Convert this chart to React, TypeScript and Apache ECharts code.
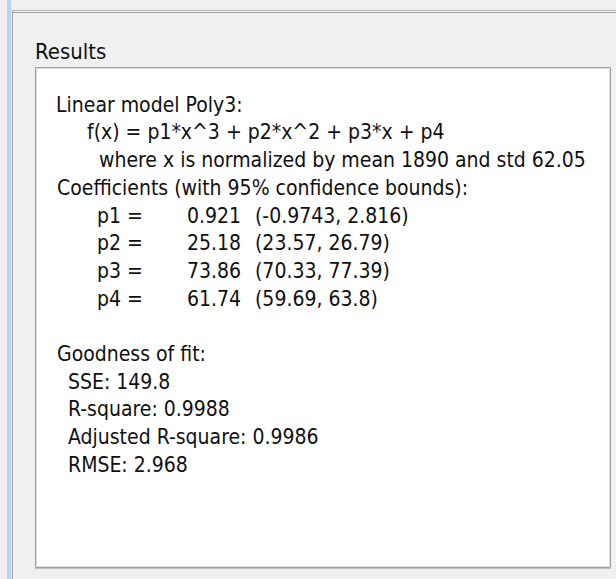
import React, { useEffect, useRef } from "react";
import * as echarts from "echarts";

// ---- content ----
const panelTitle = "Results";
const modelName = "Poly3";
const formulaText = "f(x) = p1*x^3 + p2*x^2 + p3*x + p4";
const normMean = 1890;
const normStd = 62.05;
const confidenceLevel = 95;
const coefNames = ["p1", "p2", "p3", "p4"];
const coefValues = ["0.921", "25.18", "73.86", "61.74"];
const coefLower = ["-0.9743", "23.57", "70.33", "59.69"];
const coefUpper = ["2.816", "26.79", "77.39", "63.8"];
const fitLabels = ["SSE", "R-square", "Adjusted R-square", "RMSE"];
const fitValues = ["149.8", "0.9988", "0.9986", "2.968"];

const FONT_FAMILY = '"DejaVu Sans Condensed", "DejaVu Sans", sans-serif';
const FONT_SIZE = 21;
const TEXT_COLOR = "#101010";

export default function App() {
  const ref = useRef<HTMLDivElement>(null);

  useEffect(() => {
    document.body.style.margin = "0";
    const el = ref.current;
    if (!el) return;
    const chart = echarts.init(el, undefined, { renderer: "svg" });

    const font = `${FONT_SIZE}px ${FONT_FAMILY}`;
    const lineStep = 27.7;
    const firstBaseline = 112;
    const baseOffset = 7.3; // distance from baseline to middle
    const lineY = (k: number) => firstBaseline + lineStep * k - baseOffset;

    const txt = (text: string, x: number, y: number, extra: any = {}) => ({
      type: "text",
      x,
      y,
      silent: true,
      style: {
        text,
        font,
        fill: TEXT_COLOR,
        verticalAlign: "middle",
        align: "left",
        ...extra,
      },
    });

    const elements: any[] = [];

    // blue strip on left
    elements.push({
      type: "rect",
      shape: { x: 7, y: 0, width: 4, height: 579 },
      style: { fill: "#b9d1ea" },
      silent: true,
    });
    // outer vertical groove line
    elements.push({
      type: "line",
      shape: { x1: 12.5, y1: 10, x2: 12.5, y2: 579 },
      style: { stroke: "#a0a0a0", lineWidth: 1 },
      silent: true,
    });
    // top double line
    elements.push({
      type: "line",
      shape: { x1: 12, y1: 10.5, x2: 616, y2: 10.5 },
      style: { stroke: "#b4b4b4", lineWidth: 1 },
      silent: true,
    });
    elements.push({
      type: "line",
      shape: { x1: 13, y1: 12.5, x2: 616, y2: 12.5 },
      style: { stroke: "#a0a0a0", lineWidth: 1 },
      silent: true,
    });

    // panel title
    elements.push(
      txt(panelTitle, 35, 59 - 7.6, { font: `22px ${FONT_FAMILY}` })
    );

    // white results box
    elements.push({
      type: "rect",
      shape: { x: 35.5, y: 67.5, width: 575, height: 500 },
      style: { fill: "#ffffff", stroke: "#a0a0a0", lineWidth: 1 },
      silent: true,
    });
    elements.push({
      type: "rect",
      shape: { x: 36.5, y: 68.5, width: 573, height: 498 },
      style: { fill: "none", stroke: "#dcdcdc", lineWidth: 1 },
      silent: true,
    });
    elements.push({
      type: "line",
      shape: { x1: 35, y1: 568.5, x2: 611, y2: 568.5 },
      style: { stroke: "#c0c0c0", lineWidth: 1 },
      silent: true,
    });

    // header lines
    elements.push(txt(`Linear model ${modelName}:`, 56, lineY(0)));
    elements.push(txt(`${formulaText}`, 87, lineY(1)));
    elements.push(
      txt(`where x is normalized by mean ${normMean} and std ${normStd}`, 99, lineY(2))
    );
    elements.push(
      txt(`Coefficients (with ${confidenceLevel}% confidence bounds):`, 57, lineY(3))
    );

    coefNames.forEach((name, i) => {
      const y = lineY(4 + i);
      elements.push(txt(`${name} =`, 97, y));
      elements.push(txt(coefValues[i], 187, y));
      elements.push(txt(`(${coefLower[i]}, ${coefUpper[i]})`, 255, y));
    });

    elements.push(txt("Goodness of fit:", 57, lineY(9)));
    fitLabels.forEach((label, i) => {
      elements.push(txt(`${label}: ${fitValues[i]}`, 68, lineY(10 + i)));
    });

    chart.setOption({
      animation: false,
      backgroundColor: "#f0f0f0",
      graphic: { elements },
    });

    return () => chart.dispose();
  }, []);

  return <div ref={ref} style={{ width: 616, height: 579 }} />;
}
